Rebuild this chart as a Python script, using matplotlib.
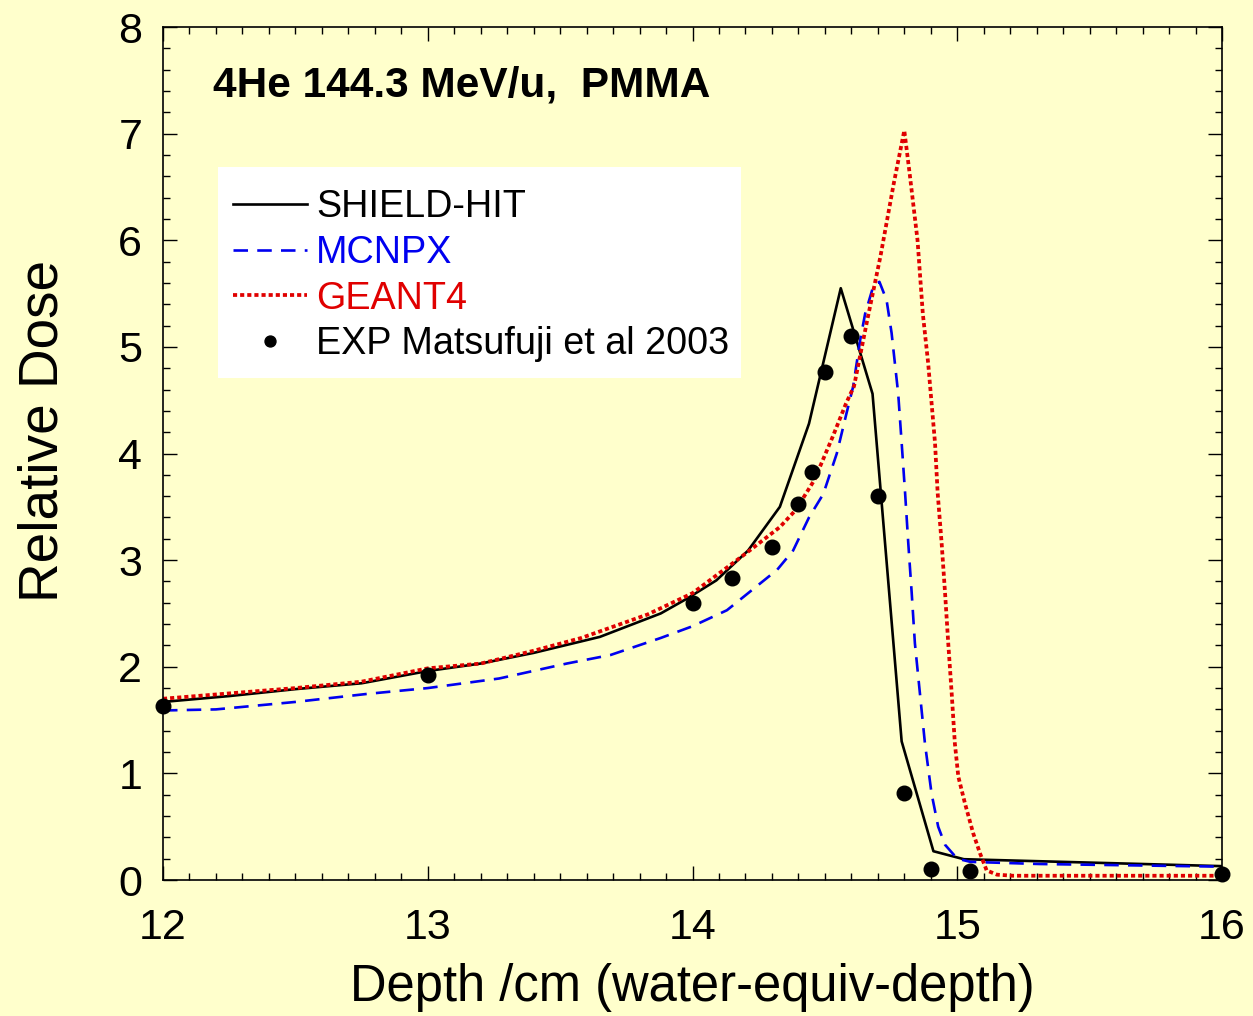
import matplotlib
matplotlib.use("Agg")
import matplotlib.pyplot as plt
from matplotlib.ticker import MultipleLocator
from matplotlib.patches import Rectangle

plt.rcParams['font.family'] = ['Liberation Sans', 'DejaVu Sans']

# Experimental data (Matsufuji et al 2003)
exp_x = [12.0, 13.0, 14.0, 14.15, 14.30, 14.40, 14.45, 14.50, 14.60, 14.70, 14.80, 14.90, 15.05, 16.0]
exp_y = [1.63, 1.92, 2.60, 2.83, 3.12, 3.53, 3.83, 4.76, 5.10, 3.60, 0.82, 0.10, 0.08, 0.06]

# SHIELD-HIT
shield_x = [12.0, 12.25, 12.5, 12.75, 13.0, 13.2, 13.4, 13.5, 13.65, 13.88, 13.98, 14.09,
            14.21, 14.33, 14.44, 14.56, 14.68, 14.79, 14.91, 15.025, 16.0]
shield_y = [1.67, 1.725, 1.79, 1.845, 1.96, 2.03, 2.13, 2.19, 2.28, 2.50, 2.64, 2.81,
            3.09, 3.50, 4.28, 5.55, 4.56, 1.30, 0.27, 0.195, 0.13]

# MCNPX
mcnpx_x = [12.0, 12.2, 12.5, 12.77, 13.0, 13.27, 13.525, 13.69, 13.88, 14.0, 14.13, 14.24,
           14.32, 14.38, 14.44, 14.494, 14.545, 14.582, 14.607, 14.633, 14.652, 14.683, 14.706,
           14.733, 14.752, 14.777, 14.79, 14.803, 14.815, 14.828, 14.84, 14.859, 14.878, 14.903,
           14.928, 14.954, 15.0, 15.05, 15.31, 16.0]
mcnpx_y = [1.59, 1.60, 1.67, 1.745, 1.80, 1.89, 2.03, 2.11, 2.27, 2.38, 2.53, 2.75,
           2.91, 3.09, 3.40, 3.62, 4.0, 4.38, 4.63, 5.06, 5.31, 5.57, 5.61,
           5.44, 5.13, 4.56, 4.10, 3.63, 3.16, 2.69, 2.22, 1.75, 1.28, 0.81,
           0.50, 0.33, 0.20, 0.17, 0.15, 0.125]

# GEANT4
geant_x = [12.0, 12.25, 12.5, 12.75, 13.0, 13.2, 13.4, 13.58, 13.83, 14.0, 14.2, 14.33, 14.39,
           14.46, 14.53, 14.58, 14.61, 14.66, 14.71, 14.76, 14.80, 14.82, 14.85, 14.87, 14.89,
           14.90, 14.916, 14.926, 14.941, 14.954, 14.966, 14.979, 14.991, 15.004, 15.029, 15.06,
           15.086, 15.111, 15.15, 15.21, 16.0]
geant_y = [1.70, 1.75, 1.80, 1.86, 1.985, 2.03, 2.15, 2.27, 2.49, 2.69, 3.06, 3.31, 3.47,
           3.75, 4.16, 4.47, 4.63, 5.25, 5.85, 6.53, 7.03, 6.63, 6.00, 5.31, 4.85,
           4.56, 4.10, 3.63, 3.16, 2.69, 2.22, 1.75, 1.28, 0.97, 0.72, 0.44,
           0.25, 0.09, 0.05, 0.04, 0.04]

bg = '#FFFFCC'
blue = '#0000F0'
red = '#E00000'

W, H = 1253, 1016
x0, x1, y0, y1 = 163, 1222, 27, 880          # plot frame in pixels
fig = plt.figure(figsize=(W / 100, H / 100), dpi=100, facecolor=bg)
ax = fig.add_axes([x0 / W, 1 - y1 / H, (x1 - x0) / W, (y1 - y0) / H])
ax.set_facecolor(bg)


def ax_frac(px, py):
    """Pixel position in the figure -> axes fraction."""
    return (px - x0) / (x1 - x0), (y1 - py) / (y1 - y0)


ax.plot(shield_x, shield_y, color='black', lw=1.9, label='SHIELD-HIT')
ax.plot(mcnpx_x, mcnpx_y, color=blue, lw=1.9, dashes=(5.5, 3.5), label='MCNPX')
ax.plot(geant_x, geant_y, color=red, lw=2.7, dashes=(1.1, 0.8), label='GEANT4')
ax.plot(exp_x, exp_y, 'o', color='black', ms=10.5, label='EXP Matsufuji et al 2003',
        clip_on=False, zorder=5)

ax.set_xlim(12, 16)
ax.set_ylim(0, 8)
ax.xaxis.set_major_locator(MultipleLocator(1))
ax.xaxis.set_minor_locator(MultipleLocator(0.1))
ax.yaxis.set_major_locator(MultipleLocator(1))
ax.yaxis.set_minor_locator(MultipleLocator(0.2))
ax.tick_params(which='both', direction='in', top=True, right=True, colors='black')
ax.tick_params(which='major', length=10, width=1.0, labelsize=31)
ax.tick_params(which='minor', length=5, width=1.0)
ax.tick_params(axis='x', which='major', pad=20)
ax.tick_params(axis='y', which='major', pad=15)
for s in ax.spines.values():
    s.set_linewidth(1.2)

ax.set_xlabel('Depth /cm (water-equiv-depth)', fontsize=36.5, labelpad=11)
ax.set_ylabel('Relative Dose', fontsize=39.5)
ax.yaxis.set_label_coords(*ax_frac(70, 431))

ax.text(0.047, 0.931, '4He 144.3 MeV/u,  PMMA', transform=ax.transAxes,
        fontsize=30.5, fontweight='bold', ha='left', va='center')

# white legend panel
bx0, by0 = ax_frac(218, 378)
bx1, by1 = ax_frac(741, 167)
ax.add_patch(Rectangle((bx0, by0), bx1 - bx0, by1 - by0, transform=ax.transAxes,
                       facecolor='white', edgecolor='none', zorder=3))

leg = ax.legend(loc='upper left', bbox_to_anchor=ax_frac(233, 189),
                borderaxespad=0, borderpad=0, frameon=False, fontsize=27.2,
                handlelength=1.95, handletextpad=0.25, labelspacing=0.26,
                numpoints=1, markerscale=0.75,
                labelcolor=['black', blue, red, 'black'])
leg.set_zorder(4)

fig.savefig('out.png', dpi=100, facecolor=bg)
